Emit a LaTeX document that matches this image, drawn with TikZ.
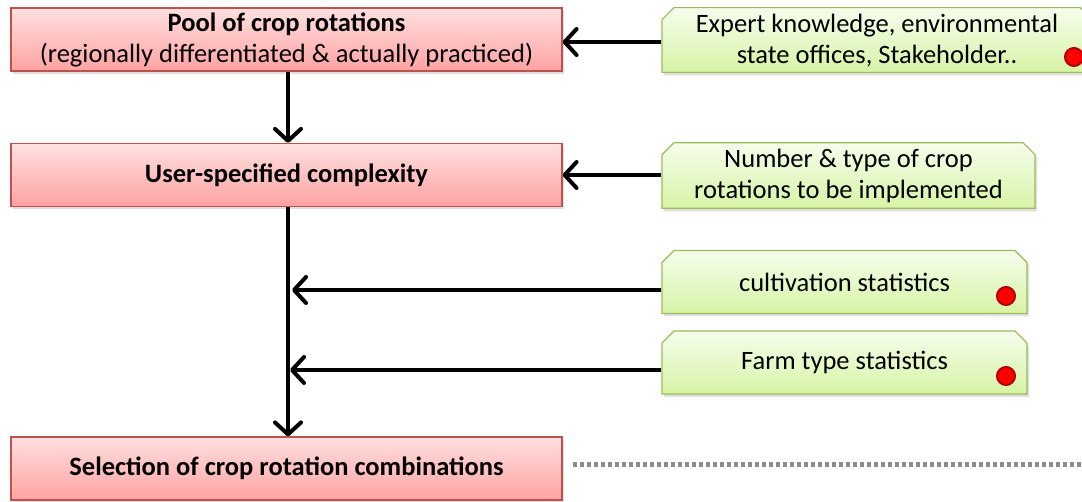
\documentclass[tikz,border=0pt]{standalone}
\usepackage{fontspec}
\setmainfont{Carlito}
\usetikzlibrary{arrows.meta,shapes.misc,shadows,calc}
\definecolor{redtop}{HTML}{FFE0E0}
\definecolor{redbot}{HTML}{FFA2A2}
\definecolor{redborder}{HTML}{C0504D}
\definecolor{greentop}{HTML}{F6FDEC}
\definecolor{greenbot}{HTML}{D6F4A6}
\definecolor{greenborder}{HTML}{9BBB59}
\definecolor{dotred}{HTML}{FF0000}
\definecolor{dotborder}{HTML}{B00000}
\definecolor{dashgray}{HTML}{8C8C8C}
\tikzset{
  redbox/.style={draw=redborder, line width=1.2pt, top color=redtop, bottom color=redbot,
    minimum width=551pt, minimum height=63pt, inner sep=0pt, align=center,
    font=\fontsize{26.5}{31}\selectfont\bfseries,
    drop shadow={shadow xshift=2pt, shadow yshift=-3pt, opacity=0.25}},
  greenbox/.style={chamfered rectangle, chamfered rectangle corners={north west,north east},
    chamfered rectangle xsep=6pt, chamfered rectangle ysep=6pt,
    draw=greenborder, line width=1.2pt, top color=greentop, bottom color=greenbot,
    minimum height=63pt, inner sep=0pt, align=center,
    font=\fontsize{26.5}{31}\selectfont,
    drop shadow={shadow xshift=2pt, shadow yshift=-3pt, opacity=0.25}},
  flow/.style={line width=4pt, -{Straight Barb[length=12pt,width=26pt,line width=4pt,round]}},
  reddot/.style={circle, fill=dotred, draw=dotborder, line width=2pt, minimum size=18pt, inner sep=0pt},
}
\begin{document}
\begin{tikzpicture}[x=1pt,y=-1pt]
\useasboundingbox (0,0) rectangle (1082,502);
% red boxes
\node[redbox] (pool) at (286.5,39.5) {Pool of crop rotations\\\mdseries(regionally differentiated \& actually practiced)};
\node[redbox] (user) at (286.5,175) {User-specified complexity};
\node[redbox] (sel) at (286.5,468.5) {Selection of crop rotation combinations};
% green boxes
\node[greenbox, minimum width=430pt] (exp) at (877,40) {Expert knowledge, environmental\\state offices, Stakeholder..};
\node[greenbox, minimum width=373pt] (num) at (848.5,175.5) {Number \& type of crop\\rotations to be implemented};
\node[greenbox, minimum width=365pt] (cult) at (844.5,282) {cultivation statistics};
\node[greenbox, minimum width=365pt] (farm) at (844.5,362.5) {Farm type statistics};
% red dots
\node[reddot] (d1) at (1074,57) {};
\node[reddot] (d2) at (1006,296) {};
\node[reddot] (d3) at (1006,376) {};
% connectors
\coordinate (j1) at (292,290);
\coordinate (j2) at (290,370);
\draw[flow] (exp.west |- 0,42) -- (pool.east |- 0,42);
\draw[flow] (num.west |- 0,175) -- (user.east |- 0,175);
\draw[flow] (pool.south -| 288,0) -- (user.north -| 288,0);
\draw[flow] (user.south -| 288,0) -- (sel.north -| 288,0);
\draw[flow] (cult.west |- j1) -- (j1);
\draw[flow] (farm.west |- j2) -- (j2);
\coordinate (dend) at (1082,465);
\draw[line width=5pt, dashgray, dash pattern=on 4pt off 3pt] (sel.east |- dend) ++(10,0) -- (dend);
\end{tikzpicture}
\end{document}
